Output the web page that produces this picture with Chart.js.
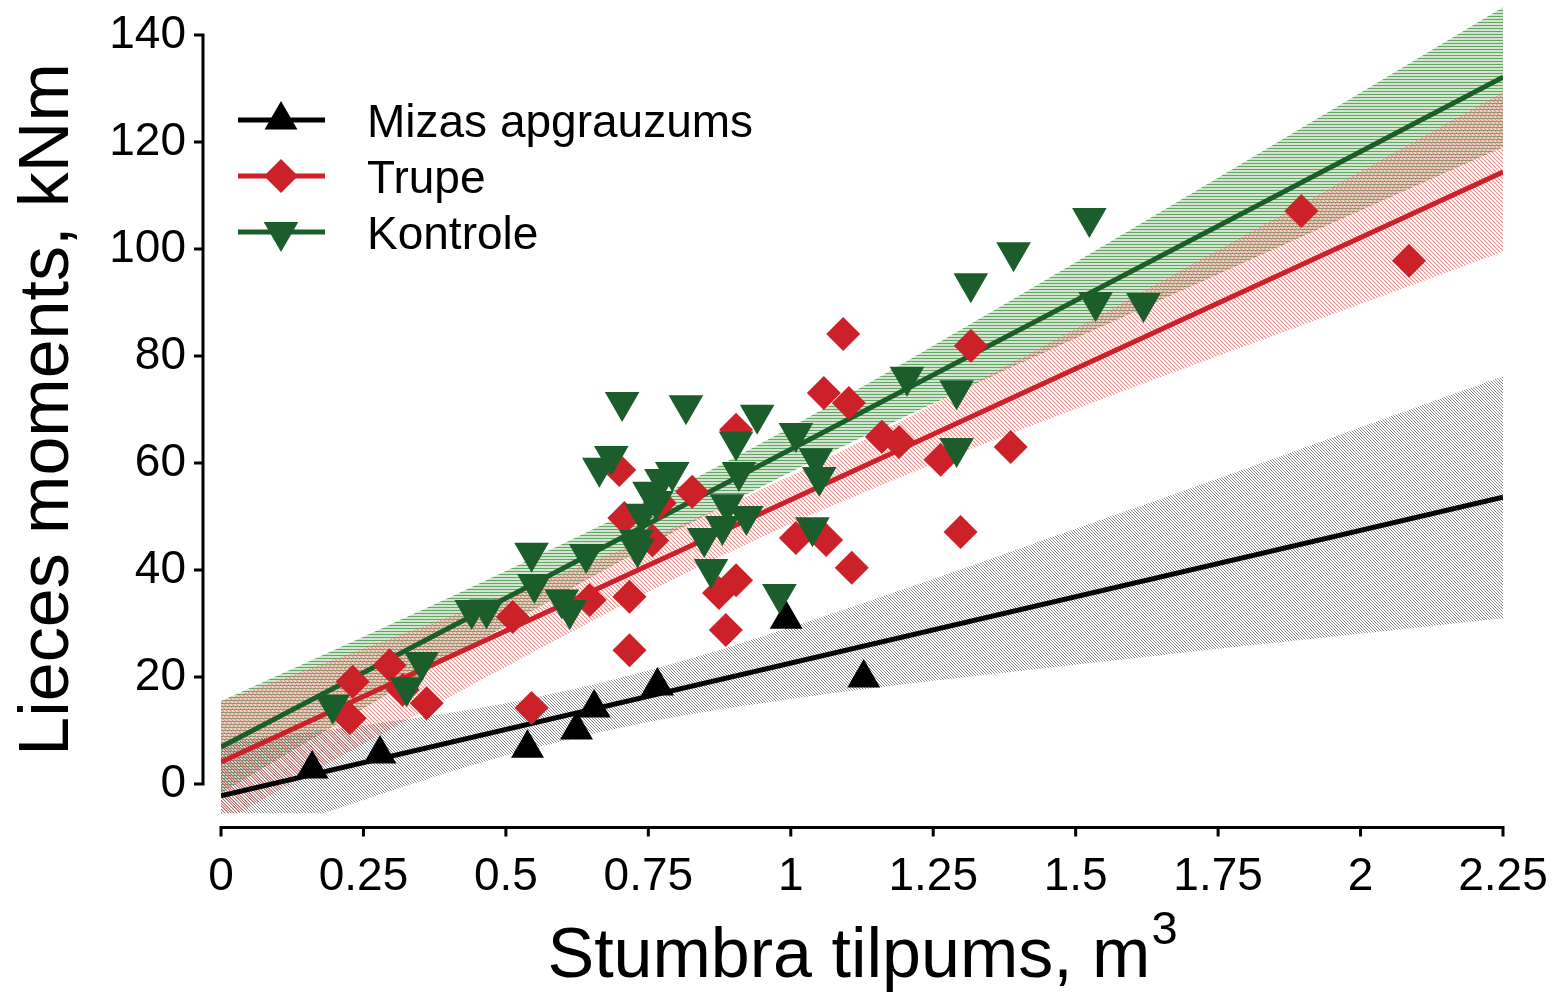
<!DOCTYPE html>
<html>
<head>
<meta charset="utf-8">
<title>Lieces moments</title>
<script src="https://cdn.jsdelivr.net/npm/chart.js@4.4.1/dist/chart.umd.min.js"></script>
<style>
    html, body { margin: 0; padding: 0; background: #fff; }
    #wrap { width: 1555px; height: 995px; }
</style>
</head>
<body>
<div id="wrap"><canvas id="chart" width="1555" height="995"></canvas></div>
<script>
// axis ticks
const xTicks = [0, 0.25, 0.5, 0.75, 1, 1.25, 1.5, 1.75, 2, 2.25];
const yTicks = [0, 20, 40, 60, 80, 100, 120, 140];

const seriesNames = ['Mizas apgrauzums', 'Trupe', 'Kontrole'];

// Mizas apgrauzums
const mizasX = [0.16, 0.279, 0.538, 0.624, 0.655, 0.766, 0.992, 1.128];
const mizasY = [2.8, 5.6, 6.7, 10.1, 14.2, 18.3, 30.8, 19.8];

// Trupe
const trupeX = [0.226, 0.231, 0.296, 0.319, 0.361, 0.512, 0.545, 0.647, 0.699, 0.708,
    0.717, 0.717, 0.757, 0.770, 0.827, 0.874, 0.886, 0.904, 0.904, 1.009,
    1.058, 1.062, 1.092, 1.102, 1.107, 1.160, 1.190, 1.263, 1.298, 1.316,
    1.386, 1.896, 2.085];
const trupeY = [12.3, 19.1, 22.2, 17.6, 15.1, 31.2, 14.2, 34.4, 58.7, 49.7,
    35.0, 25.0, 45.5, 52.5, 54.6, 35.7, 28.8, 66.2, 38.1, 46.0,
    73.1, 45.6, 84.1, 71.2, 40.4, 64.9, 63.9, 60.6, 47.1, 81.9,
    63.0, 107.1, 97.8];

// Kontrole
const kontroleX = [0.196, 0.326, 0.352, 0.44, 0.466, 0.545, 0.55, 0.598, 0.612, 0.641,
    0.664, 0.685, 0.704, 0.729, 0.731, 0.739, 0.752, 0.764, 0.773, 0.792,
    0.816, 0.848, 0.86, 0.88, 0.888, 0.904, 0.909, 0.922, 0.941, 0.98,
    1.009, 1.038, 1.044, 1.05, 1.204, 1.291, 1.291, 1.316, 1.391, 1.524,
    1.535, 1.619];
const kontroleY = [14.8, 18.1, 22.8, 32.5, 32.6, 43.2, 37.4, 34.5, 32.5, 43.0,
    59.1, 61.3, 71.4, 45.6, 44.0, 50.5, 54.6, 52.9, 57.0, 58.3,
    70.8, 46.0, 40.2, 48.2, 52.3, 64.0, 58.3, 50.1, 69.0, 35.5,
    65.6, 48.0, 60.9, 57.4, 76.1, 73.6, 62.8, 93.6, 99.4, 105.8,
    90.1, 89.9];

// regression lines (values at x = 0 and x = 2.25)
const lineX = [0, 2.25];
const mizasLine = [-2.2, 53.6];
const trupeLine = [4.1, 114.4];
const kontroleLine = [6.9, 132.1];

// 95% confidence bands, read at the x tick positions
const bandX = [0, 0.25, 0.5, 0.75, 1, 1.25, 1.5, 1.75, 2, 2.25];
const mizasUpper = [7.7, 11.0, 15.1, 21.2, 29.3, 38.3, 47.7, 57.1, 66.7, 76.2];
const mizasLower = [-12.1, -3.0, 5.3, 11.6, 15.9, 19.3, 22.3, 25.3, 28.1, 31.0];
const trupeUpper = [15.4, 25.3, 35.3, 45.9, 57.6, 71.0, 85.1, 99.8, 114.5, 129.3];
const trupeLower = [-7.2, 7.5, 21.9, 35.9, 48.6, 59.8, 70.1, 80.0, 89.7, 99.5];
const kontroleUpper = [15.5, 27.5, 39.8, 52.7, 66.7, 81.9, 97.5, 113.3, 129.2, 145.2];
const kontroleLower = [-1.7, 14.1, 29.6, 44.5, 58.3, 71.1, 83.3, 95.3, 107.2, 119.0];

const FONT = "'Liberation Sans', Arial, Helvetica, sans-serif";
const BLACK = '#000000';
const RED = '#cd2129';
const GREEN = '#1b5e2b';

const pts = (xs, ys) => xs.map((x, i) => ({x: x, y: ys[i]}));

function hatch(color, kind, size, lw) {
    const c = document.createElement('canvas');
    c.width = size;
    c.height = size;
    const g = c.getContext('2d');
    g.strokeStyle = color;
    g.lineWidth = lw;
    g.beginPath();
    if (kind === 'h') {
        g.moveTo(0, size / 2);
        g.lineTo(size, size / 2);
    } else {
        [-size, 0, size].forEach(o => {
            g.moveTo(o, 0);
            g.lineTo(o + size, size);
        });
    }
    g.stroke();
    return g.createPattern(c, 'repeat');
}

const greenHatch = hatch('rgba(60,145,60,0.8)', 'h', 3, 1.6);
const redHatch = hatch('rgba(235,120,120,0.85)', 'd', 4, 1.1);
const grayHatch = hatch('rgba(110,110,110,0.8)', 'd', 3, 1);

function band(xs, ys, fill, color, order) {
    return {
        type: 'line',
        data: pts(xs, ys),
        borderColor: 'transparent',
        borderWidth: 0,
        pointRadius: 0,
        cubicInterpolationMode: 'monotone',
        fill: fill,
        backgroundColor: color,
        order: order
    };
}

function regLine(ys, color) {
    return {
        type: 'line',
        data: pts(lineX, ys),
        borderColor: color,
        borderWidth: 5,
        pointRadius: 0,
        fill: false,
        order: 10
    };
}

function drawMarker(ctx, style, x, y, r, color) {
    ctx.fillStyle = color;
    ctx.beginPath();
    if (style === 'diamond') {
        ctx.moveTo(x - r, y);
        ctx.lineTo(x, y - r);
        ctx.lineTo(x + r, y);
        ctx.lineTo(x, y + r);
    } else {
        const s = style === 'down' ? -1 : 1;
        ctx.moveTo(x, y - s * r);
        ctx.lineTo(x + r * 0.866, y + s * r * 0.5);
        ctx.lineTo(x - r * 0.866, y + s * r * 0.5);
    }
    ctx.closePath();
    ctx.fill();
}

// offset axes, titles and legend (GraphPad style)
const decorations = {
    id: 'decorations',
    afterDraw(chart) {
        const ctx = chart.ctx;
        const xs = chart.scales.x;
        const ys = chart.scales.y;
        const ax = chart.chartArea.left - 18;
        const ay = chart.chartArea.bottom + 14;
        ctx.save();
        ctx.strokeStyle = '#000';
        ctx.lineWidth = 3;
        ctx.beginPath();
        ctx.moveTo(ax, ys.getPixelForValue(140) - 1.5);
        ctx.lineTo(ax, ys.getPixelForValue(0) + 1.5);
        yTicks.forEach(v => {
            const p = ys.getPixelForValue(v);
            ctx.moveTo(ax - 9, p);
            ctx.lineTo(ax, p);
        });
        ctx.moveTo(xs.getPixelForValue(0) - 1.5, ay);
        ctx.lineTo(xs.getPixelForValue(2.25) + 1.5, ay);
        xTicks.forEach(v => {
            const p = xs.getPixelForValue(v);
            ctx.moveTo(p, ay);
            ctx.lineTo(p, ay + 9);
        });
        ctx.stroke();

        // x title with superscript
        ctx.fillStyle = '#000';
        ctx.textBaseline = 'alphabetic';
        ctx.textAlign = 'left';
        const t1 = 'Stumbra tilpums, m';
        ctx.font = '70px ' + FONT;
        const w1 = ctx.measureText(t1).width;
        ctx.font = '47px ' + FONT;
        const w2 = ctx.measureText('3').width;
        const cx = (xs.getPixelForValue(0) + xs.getPixelForValue(2.25)) / 2;
        const start = cx - (w1 + w2) / 2;
        ctx.font = '70px ' + FONT;
        ctx.fillText(t1, start, 977);
        ctx.font = '47px ' + FONT;
        ctx.fillText('3', start + w1 + 1, 944);

        // y title
        ctx.save();
        ctx.translate(68, (ys.getPixelForValue(0) + ys.getPixelForValue(140)) / 2);
        ctx.rotate(-Math.PI / 2);
        ctx.textAlign = 'center';
        ctx.font = '70px ' + FONT;
        ctx.fillText('Lieces moments, kNm', 0, 0);
        ctx.restore();

        // legend
        const rows = [120, 176, 232];
        const colors = [BLACK, RED, GREEN];
        const styles = ['up', 'diamond', 'down'];
        const sizes = [19, 17, 20];
        ctx.font = '46px ' + FONT;
        ctx.textAlign = 'left';
        rows.forEach((ry, i) => {
            ctx.strokeStyle = colors[i];
            ctx.lineWidth = 5;
            ctx.beginPath();
            ctx.moveTo(238, ry);
            ctx.lineTo(325, ry);
            ctx.stroke();
            drawMarker(ctx, styles[i], 281, ry, sizes[i], colors[i]);
            ctx.fillStyle = '#000';
            ctx.fillText(seriesNames[i], 367, ry + 17);
        });
        ctx.restore();
    }
};

new Chart(document.getElementById('chart'), {
    type: 'scatter',
    data: {
        datasets: [
            band(bandX, kontroleUpper, false, 'transparent', 30),
            band(bandX, kontroleLower, '-1', greenHatch, 30),
            band(bandX, trupeUpper, false, 'transparent', 25),
            band(bandX, trupeLower, '-1', redHatch, 25),
            band(bandX, mizasUpper, false, 'transparent', 20),
            band(bandX, mizasLower, '-1', grayHatch, 20),
            regLine(mizasLine, BLACK),
            regLine(trupeLine, RED),
            regLine(kontroleLine, GREEN),
            {
                label: seriesNames[1],
                data: pts(trupeX, trupeY),
                pointStyle: 'rectRot',
                pointRadius: 17,
                backgroundColor: RED,
                borderWidth: 0,
                order: 4
            },
            {
                label: seriesNames[0],
                data: pts(mizasX, mizasY),
                pointStyle: 'triangle',
                pointRadius: 19,
                backgroundColor: BLACK,
                borderWidth: 0,
                order: 3
            },
            {
                label: seriesNames[2],
                data: pts(kontroleX, kontroleY),
                pointStyle: 'triangle',
                rotation: 180,
                pointRadius: 20,
                backgroundColor: GREEN,
                borderWidth: 0,
                order: 2
            }
        ]
    },
    options: {
        responsive: false,
        animation: false,
        devicePixelRatio: 1,
        events: [],
        layout: {autoPadding: false, padding: {top: 2.9, right: 52, bottom: 0, left: 0}},
        plugins: {
            legend: {display: false},
            tooltip: {enabled: false}
        },
        scales: {
            x: {
                type: 'linear',
                min: 0,
                max: 2.25,
                afterBuildTicks: s => { s.ticks = xTicks.map(v => ({value: v})); },
                afterFit: s => { s.height = 181.6; s.paddingLeft = 0; s.paddingRight = 0; },
                grid: {display: false},
                border: {display: false},
                ticks: {
                    padding: 28,
                    color: '#000',
                    maxRotation: 0,
                    autoSkip: false,
                    font: {size: 46, family: FONT},
                    callback: v => String(v)
                }
            },
            y: {
                type: 'linear',
                min: -5.5,
                max: 146,
                afterBuildTicks: s => { s.ticks = yTicks.map(v => ({value: v})); },
                afterFit: s => { s.width = 221; s.paddingTop = 0; s.paddingBottom = 0; },
                grid: {display: false},
                border: {display: false},
                ticks: {
                    padding: 27,
                    color: '#000',
                    autoSkip: false,
                    font: {size: 46, family: FONT},
                    callback: v => String(v)
                }
            }
        }
    },
    plugins: [decorations]
});
</script>
</body>
</html>
